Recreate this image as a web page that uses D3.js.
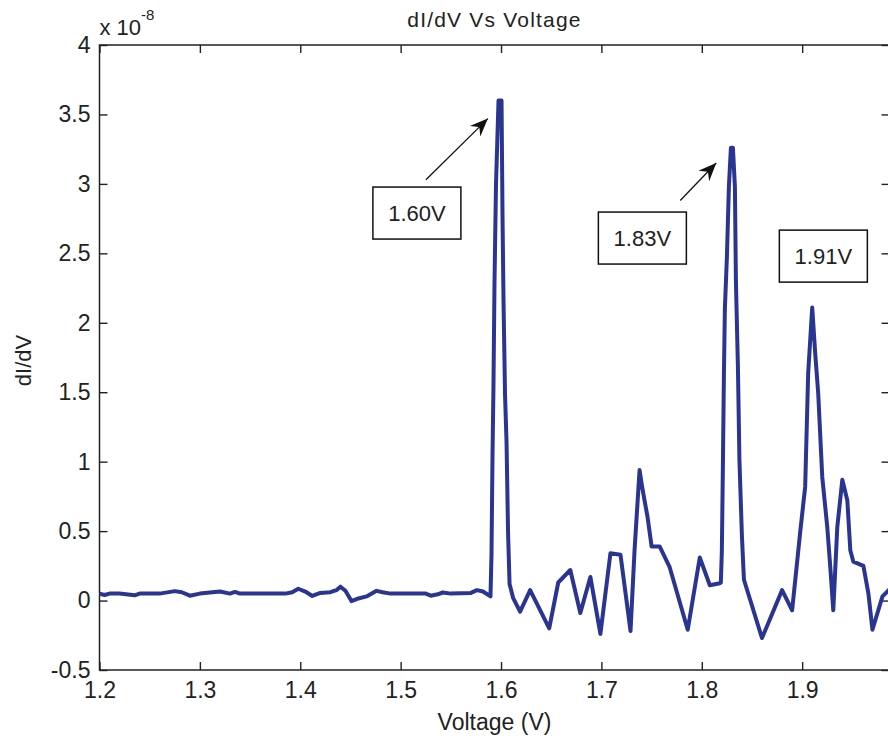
<!DOCTYPE html>
<html>
<head>
<meta charset="utf-8">
<script src="https://cdn.jsdelivr.net/npm/d3@7"></script>
<style>
  html, body { margin: 0; padding: 0; background: #ffffff; }
  svg { display: block; font-family: "Liberation Sans", Arial, Helvetica, sans-serif; }
</style>
</head>
<body>
<svg id="chart" width="888" height="738"></svg>
<script>
// Differential conductance sweep (dI/dV in units of 1e-8) versus bias voltage (V)
const voltage = [
  1.200, 1.205, 1.210, 1.220, 1.235, 1.240, 1.260, 1.275, 1.282, 1.290,
  1.300, 1.320, 1.330, 1.335, 1.340, 1.385, 1.392, 1.398, 1.405, 1.412,
  1.420, 1.430, 1.436, 1.440, 1.445, 1.451, 1.458, 1.466, 1.476, 1.482,
  1.490, 1.525, 1.530, 1.537, 1.542, 1.550, 1.570, 1.576, 1.582, 1.5895,
  1.5905, 1.5915, 1.5925, 1.5935, 1.5950, 1.5975, 1.6005, 1.6015, 1.6025, 1.6040,
  1.6055, 1.6070, 1.6085, 1.6120, 1.6190, 1.6290, 1.6480, 1.6570, 1.6690, 1.6790,
  1.6890, 1.6990, 1.7090, 1.7190, 1.7290, 1.7330, 1.7380, 1.7410, 1.7460, 1.7500,
  1.7580, 1.7680, 1.7860, 1.7980, 1.8080, 1.8180, 1.8190, 1.8200, 1.8210, 1.8220,
  1.8230, 1.8250, 1.8270, 1.8290, 1.8310, 1.8330, 1.8340, 1.8360, 1.8375, 1.8400,
  1.8420, 1.8600, 1.8800, 1.8900, 1.8980, 1.9030, 1.9060, 1.9100, 1.9130, 1.9160,
  1.9200, 1.9250, 1.9280, 1.9310, 1.9350, 1.9400, 1.9450, 1.9480, 1.9510, 1.9610,
  1.9660, 1.9700, 1.9800, 1.9870
];
const didv = [
  0.050, 0.040, 0.050, 0.050, 0.038, 0.050, 0.050, 0.068, 0.060, 0.035,
  0.050, 0.065, 0.050, 0.062, 0.050, 0.050, 0.060, 0.085, 0.065, 0.033,
  0.055, 0.060, 0.075, 0.100, 0.070, -0.004, 0.015, 0.030, 0.070, 0.060,
  0.050, 0.050, 0.035, 0.045, 0.058, 0.050, 0.055, 0.075, 0.065, 0.030,
  0.33, 1.03, 1.56, 2.29, 3.00, 3.60, 3.60, 2.76, 2.15, 1.48,
  1.14, 0.49, 0.12, 0.02, -0.08, 0.075, -0.20, 0.13, 0.22, -0.09,
  0.17, -0.24, 0.34, 0.33, -0.22, 0.36, 0.94, 0.80, 0.60, 0.39,
  0.39, 0.24, -0.21, 0.31, 0.11, 0.125, 0.13, 0.36, 0.95, 1.60,
  2.10, 2.47, 2.98, 3.26, 3.26, 2.98, 2.30, 1.68, 1.01, 0.46,
  0.15, -0.27, 0.075, -0.07, 0.49, 0.82, 1.64, 2.11, 1.78, 1.49,
  0.89, 0.53, 0.24, -0.07, 0.53, 0.87, 0.72, 0.36, 0.28, 0.25,
  0.05, -0.21, 0.03, 0.08
];

const xTicks = [1.2, 1.3, 1.4, 1.5, 1.6, 1.7, 1.8, 1.9];
const xTickLabels = ["1.2", "1.3", "1.4", "1.5", "1.6", "1.7", "1.8", "1.9"];
const yTicks = [-0.5, 0, 0.5, 1, 1.5, 2, 2.5, 3, 3.5, 4];
const yTickLabels = ["-0.5", "0", "0.5", "1", "1.5", "2", "2.5", "3", "3.5", "4"];

// Peak call-outs: box centres and arrows, in data units
const peakLabels = ["1.60V", "1.83V", "1.91V"];
const peakBoxV = [1.5162, 1.7408, 1.9211];
const peakBoxY = [2.79, 2.61, 2.48];
const arrowTailV = [1.5252, 1.7785];
const arrowTailY = [3.03, 2.88];
const arrowHeadV = [1.5869, 1.8144];
const arrowHeadY = [3.47, 3.15];

const titleText = "dI/dV Vs Voltage";
const xLabelText = "Voltage (V)";
const yLabelText = "dI/dV";

const svg = d3.select("#chart");
const plotLeft = 99.5, plotRight = 889.5, plotTop = 45, plotBottom = 670;
const ink = "#222222";

const x = d3.scaleLinear().domain([1.2, 1.987]).range([plotLeft, plotRight]);
const y = d3.scaleLinear().domain([-0.5, 4]).range([plotBottom, plotTop]);

// arrowhead marker
svg.append("defs").append("marker")
  .attr("id", "head")
  .attr("viewBox", "-20 -10 22 20")
  .attr("markerUnits", "userSpaceOnUse")
  .attr("markerWidth", 22)
  .attr("markerHeight", 20)
  .attr("refX", 0).attr("refY", 0)
  .attr("orient", "auto")
  .append("path")
  .attr("d", "M0,0 L-18,-7.5 L-12,0 L-18,7.5 Z")
  .attr("fill", "#111");

// axes: ticks point inward on all four sides
const fontSize = 23;
function styleAxis(g) {
  g.selectAll(".domain").remove();
  g.selectAll(".tick line").attr("stroke", ink).attr("stroke-width", 1.4);
  g.selectAll(".tick text").attr("fill", ink).style("font-size", fontSize + "px")
    .style("font-family", "'Liberation Sans', Arial, sans-serif");
}

svg.append("g").attr("transform", `translate(0,${plotBottom})`)
  .call(d3.axisBottom(x).tickValues(xTicks).tickSizeInner(-8).tickSizeOuter(0)
    .tickPadding(12).tickFormat((d, i) => xTickLabels[i]))
  .call(styleAxis);

svg.append("g").attr("transform", `translate(0,${plotTop})`)
  .call(d3.axisTop(x).tickValues(xTicks).tickSizeInner(-8).tickSizeOuter(0).tickFormat(""))
  .call(styleAxis);

svg.append("g").attr("transform", `translate(${plotLeft},0)`)
  .call(d3.axisLeft(y).tickValues(yTicks).tickSizeInner(-8).tickSizeOuter(0)
    .tickPadding(9).tickFormat((d, i) => yTickLabels[i]))
  .call(styleAxis);

svg.append("g").attr("transform", `translate(${plotRight},0)`)
  .call(d3.axisRight(y).tickValues(yTicks).tickSizeInner(-8).tickSizeOuter(0).tickFormat(""))
  .call(styleAxis);

// axes box
svg.append("rect")
  .attr("x", plotLeft).attr("y", plotTop)
  .attr("width", plotRight - plotLeft).attr("height", plotBottom - plotTop)
  .attr("fill", "none").attr("stroke", ink).attr("stroke-width", 1.5);

// data trace
const pts = voltage.map((v, i) => [v, didv[i]]);
svg.append("path")
  .datum(pts)
  .attr("fill", "none")
  .attr("stroke", "#2a3592")
  .attr("stroke-width", 4)
  .attr("stroke-linejoin", "round")
  .attr("d", d3.line().x(d => x(d[0])).y(d => y(d[1])));

// exponent label
const expo = svg.append("text")
  .attr("x", plotLeft).attr("y", 35)
  .attr("fill", ink).style("font-size", "22px");
expo.append("tspan").text("x 10");
expo.append("tspan").attr("dy", -15).style("font-size", "15px").text("-8");

// title and axis labels
svg.append("text")
  .attr("x", (plotLeft + plotRight) / 2).attr("y", 27)
  .attr("text-anchor", "middle").attr("fill", ink)
  .style("font-size", "21px").style("letter-spacing", "1.2px")
  .text(titleText);

svg.append("text")
  .attr("x", (plotLeft + plotRight) / 2).attr("y", 730)
  .attr("text-anchor", "middle").attr("fill", ink)
  .style("font-size", "23px")
  .text(xLabelText);

svg.append("text")
  .attr("transform", `translate(31,${(plotTop + plotBottom) / 2 + 3}) rotate(-90)`)
  .attr("text-anchor", "middle").attr("fill", ink)
  .style("font-size", "22px")
  .text(yLabelText);

// arrows
arrowTailV.forEach((v, i) => {
  svg.append("line")
    .attr("x1", x(v)).attr("y1", y(arrowTailY[i]))
    .attr("x2", x(arrowHeadV[i])).attr("y2", y(arrowHeadY[i]))
    .attr("stroke", "#111").attr("stroke-width", 1.3)
    .attr("marker-end", "url(#head)");
});

// boxed peak labels
const boxW = 88, boxH = 52;
peakLabels.forEach((t, i) => {
  const cx = x(peakBoxV[i]), cy = y(peakBoxY[i]);
  svg.append("rect")
    .attr("x", cx - boxW / 2).attr("y", cy - boxH / 2)
    .attr("width", boxW).attr("height", boxH)
    .attr("fill", "#ffffff").attr("stroke", "#111").attr("stroke-width", 1.5);
  svg.append("text")
    .attr("x", cx).attr("y", cy + 8)
    .attr("text-anchor", "middle").attr("fill", ink)
    .style("font-size", "22px")
    .text(t);
});
</script>
</body>
</html>
